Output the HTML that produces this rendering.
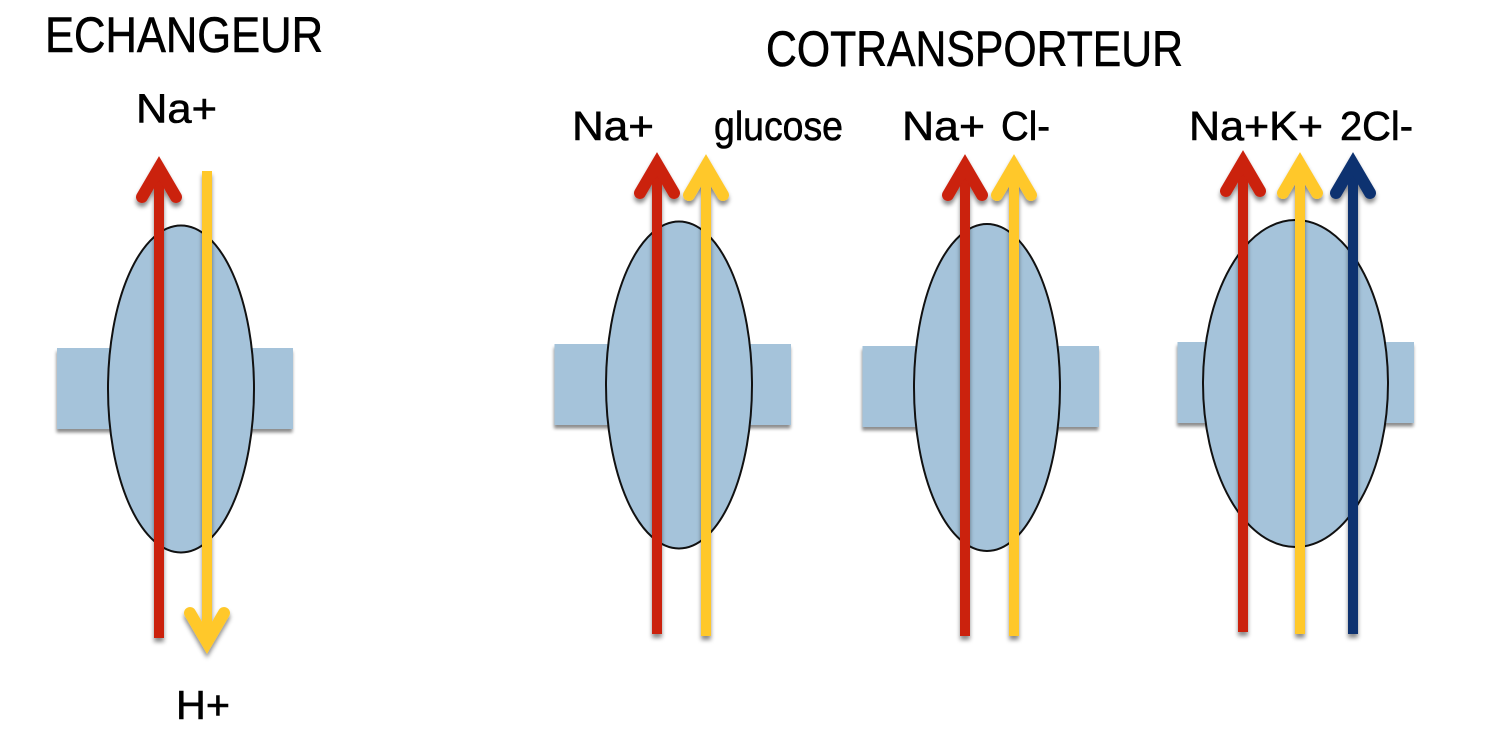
<!DOCTYPE html>
<html>
<head>
<meta charset="utf-8">
<style>
html,body{margin:0;padding:0;background:#fff}
svg{display:block}
text{font-family:"Liberation Sans",sans-serif;fill:#000;stroke:#000;stroke-width:0.6px}
.t{font-size:50px}
.l{font-size:41px}
</style>
</head>
<body>
<svg width="1508" height="742" viewBox="0 0 1508 742" xmlns="http://www.w3.org/2000/svg">
<defs>
<filter id="s" x="-60%" y="-10%" width="220%" height="120%">
<feDropShadow dx="0" dy="4" stdDeviation="2.2" flood-color="#000" flood-opacity="0.45"/>
</filter>
<filter id="r" x="-10%" y="-10%" width="120%" height="125%">
<feDropShadow dx="-0.5" dy="3.5" stdDeviation="1.6" flood-color="#000" flood-opacity="0.45"/>
</filter>
</defs>

<!-- membranes -->
<g fill="#A5C3DA" filter="url(#r)">
<rect x="57" y="348" width="236" height="81"/>
<rect x="554.500" y="344" width="236.500" height="81"/>
<rect x="862.500" y="346" width="236.500" height="81"/>
<rect x="1177.500" y="342" width="236.500" height="81"/>
</g>

<!-- transporters -->
<g fill="#A5C3DA" stroke="#111" stroke-width="2">
<ellipse cx="181" cy="389" rx="73" ry="163.500"/>
<ellipse cx="679" cy="385" rx="73" ry="163.500"/>
<ellipse cx="987" cy="387.500" rx="73" ry="163.500"/>
<ellipse cx="1295.5" cy="383.500" rx="92.500" ry="163.500"/>
</g>

<!-- arrows -->
<g fill="none" stroke="#CB2011" filter="url(#s)">
<path d="M159 638V172" stroke-width="10"/><path d="M142 197L159 168L176 197" stroke-width="12" stroke-miterlimit="10" stroke-linecap="round"/>
</g>
<g fill="none" stroke="#FFC82C" filter="url(#s)">
<path d="M207 171V638" stroke-width="10"/><path d="M190 613L207 642L224 613" stroke-width="12" stroke-miterlimit="10" stroke-linecap="round"/>
</g>

<g fill="none" stroke="#CB2011" filter="url(#s)">
<path d="M657 634V168" stroke-width="10"/><path d="M640 193L657 164L674 193" stroke-width="12" stroke-miterlimit="10" stroke-linecap="round"/>
</g>
<g fill="none" stroke="#FFC82C" filter="url(#s)">
<path d="M706 636V170" stroke-width="10"/><path d="M689 195L706 166L723 195" stroke-width="12" stroke-miterlimit="10" stroke-linecap="round"/>
</g>

<g fill="none" stroke="#CB2011" filter="url(#s)">
<path d="M965 636V170" stroke-width="10"/><path d="M948 195L965 166L982 195" stroke-width="12" stroke-miterlimit="10" stroke-linecap="round"/>
</g>
<g fill="none" stroke="#FFC82C" filter="url(#s)">
<path d="M1014 636V170" stroke-width="10"/><path d="M997 195L1014 166L1031 195" stroke-width="12" stroke-miterlimit="10" stroke-linecap="round"/>
</g>

<g fill="none" stroke="#CB2011" filter="url(#s)">
<path d="M1243 632V166" stroke-width="10"/><path d="M1226 191L1243 162L1260 191" stroke-width="12" stroke-miterlimit="10" stroke-linecap="round"/>
</g>
<g fill="none" stroke="#FFC82C" filter="url(#s)">
<path d="M1300 634V168" stroke-width="10"/><path d="M1283 193L1300 164L1317 193" stroke-width="12" stroke-miterlimit="10" stroke-linecap="round"/>
</g>
<g fill="none" stroke="#0B3070" filter="url(#s)">
<path d="M1353 634V168" stroke-width="10"/><path d="M1336 193L1353 164L1370 193" stroke-width="12" stroke-miterlimit="10" stroke-linecap="round"/>
</g>

<!-- labels -->
<text class="t" x="45" y="52" textLength="278" lengthAdjust="spacingAndGlyphs">ECHANGEUR</text>
<text class="t" x="766" y="66" textLength="417" lengthAdjust="spacingAndGlyphs">COTRANSPORTEUR</text>
<text class="l" x="136" y="122.500" textLength="81" lengthAdjust="spacingAndGlyphs">Na+</text>
<text class="l" x="176" y="719" textLength="54" lengthAdjust="spacingAndGlyphs">H+</text>
<text class="l" x="572" y="140" textLength="82" lengthAdjust="spacingAndGlyphs">Na+</text>
<text class="l" x="714" y="140" textLength="129" lengthAdjust="spacingAndGlyphs">glucose</text>
<text class="l" x="902" y="140" textLength="83" lengthAdjust="spacingAndGlyphs">Na+</text>
<text class="l" x="1001" y="140" textLength="49" lengthAdjust="spacingAndGlyphs">Cl-</text>
<text class="l" x="1189" y="140" textLength="134" lengthAdjust="spacingAndGlyphs">Na+K+</text>
<text class="l" x="1340" y="140" textLength="73" lengthAdjust="spacingAndGlyphs">2Cl-</text>
</svg>
</body>
</html>
